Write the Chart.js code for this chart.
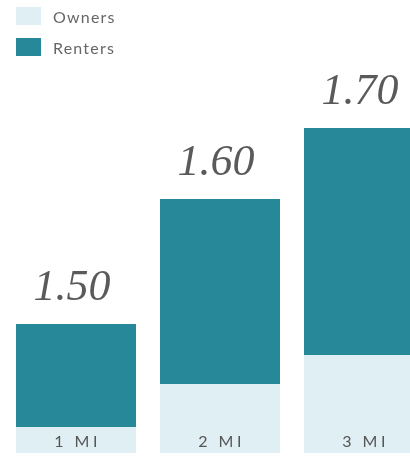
<!DOCTYPE html>
<html>
<head>
<meta charset="utf-8">
<script src="https://cdn.jsdelivr.net/npm/chart.js@4"></script>
<style>
  html, body { margin: 0; padding: 0; background: #fff; overflow: hidden; }
  /* the third bar runs past the right edge in the original, so the canvas is wider than the window */
  #wrap { width: 436px; height: 456px; }
</style>
</head>
<body>
<div id="wrap"><canvas id="chart"></canvas></div>
<script>
const categories = ["1 MI", "2 MI", "3 MI"]
const owners = [2.6, 6.9, 9.8]
const renters = [10.3, 18.5, 22.7]
const topLabels = ["1.50", "1.60", "1.70"]

const TEAL = "rgb(39, 136, 153)"
const LIGHT = "rgb(224, 239, 244)"
const GRAY = "#5a5a5a"

// legend, top labels and category labels drawn by hand
const labelsPlugin = {
  id: "labels",
  afterDatasetsDraw(chart) {
    const ctx = chart.ctx
    ctx.save()

    // legend
    chart.data.datasets.forEach((ds, i) => {
      ctx.fillStyle = ds.backgroundColor
      ctx.fillRect(16, 7 + i * 31, 25, 18)
      ctx.fillStyle = "#666"
      ctx.font = "16px Lato"
      ctx.letterSpacing = "1.2px"
      ctx.textAlign = "left"
      ctx.textBaseline = "alphabetic"
      ctx.fillText(ds.label, 53, 23 + i * 31)
    })

    // totals above bars
    const top = chart.getDatasetMeta(1)
    ctx.fillStyle = GRAY
    ctx.font = "italic 44px 'Liberation Serif'"
    ctx.letterSpacing = "0px"
    ctx.textAlign = "center"
    top.data.forEach((bar, i) => {
      ctx.fillText(topLabels[i], bar.x - 4, bar.y - 24)
    })

    // category labels inside owners bars
    const meta = chart.getDatasetMeta(0)
    ctx.fillStyle = "#555"
    ctx.font = "16px Lato"
    ctx.letterSpacing = "3.5px"
    meta.data.forEach((bar, i) => {
      ctx.fillText(categories[i], bar.x + 1.5, chart.chartArea.bottom - 6)
    })
    ctx.restore()
  }
}

new Chart(document.getElementById("chart"), {
  type: "bar",
  data: {
    labels: categories,
    datasets: [
      { label: "Owners", data: owners, backgroundColor: LIGHT },
      { label: "Renters", data: renters, backgroundColor: TEAL }
    ]
  },
  options: {
    responsive: true,
    maintainAspectRatio: false,
    animation: false,
    layout: { padding: { left: 4, right: 0, top: 0, bottom: 3 } },
    datasets: { bar: { barPercentage: 120 / 144, categoryPercentage: 1 } },
    plugins: { legend: { display: false }, tooltip: { enabled: false } },
    scales: {
      x: { stacked: true, display: false },
      y: { stacked: true, display: false, min: 0, max: 45.3 }
    }
  },
  plugins: [labelsPlugin]
})
</script>
</body>
</html>
